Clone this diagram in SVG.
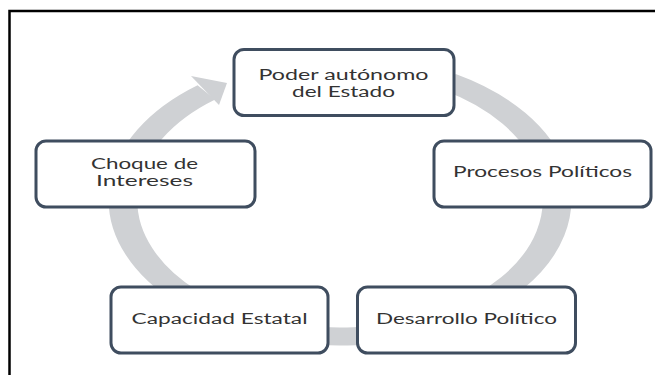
<svg xmlns="http://www.w3.org/2000/svg" width="655" height="375" viewBox="0 0 655 375">
<style>
.box{fill:#fff;stroke:#3f4d5f;stroke-width:3}
.t{font-family:Lato,"Open Sans","Liberation Sans",sans-serif;font-size:14.5px;fill:#333;text-anchor:middle}
.ring{fill:none;stroke:#cfd1d4;stroke-width:18}
</style>
<rect width="655" height="375" fill="#fff"/>
<path d="M9.5 375 V11 H655" fill="none" stroke="#000" stroke-width="2.5"/>
<g id="connectors">
<path class="ring" transform="translate(340,200) scale(1.59,1)" d="M68.25 -118.2 A136.5 136.5 0 1 1 -84.04 -107.56"/>
<polygon points="191,76 227,83 219,105" fill="#cfd1d4"/>
</g>
<g id="n1"><rect class="box" x="234" y="49.5" width="220" height="66" rx="10"/>
<text class="t"><tspan x="343.5" y="79.5" textLength="170" lengthAdjust="spacingAndGlyphs">Poder autónomo</tspan><tspan x="343.5" y="97" textLength="103" lengthAdjust="spacingAndGlyphs">del Estado</tspan></text></g>
<g id="n2"><rect class="box" x="434" y="141" width="217" height="66" rx="10"/>
<text class="t" x="542.5" y="177" textLength="179" lengthAdjust="spacingAndGlyphs">Procesos Políticos</text></g>
<g id="n3"><rect class="box" x="357.5" y="287" width="218" height="66" rx="10"/>
<text class="t" x="466.5" y="324" textLength="181" lengthAdjust="spacingAndGlyphs">Desarrollo Político</text></g>
<g id="n4"><rect class="box" x="111" y="287" width="217" height="66" rx="10"/>
<text class="t" x="219.5" y="324" textLength="176" lengthAdjust="spacingAndGlyphs">Capacidad Estatal</text></g>
<g id="n5"><rect class="box" x="36" y="141" width="219" height="66" rx="10"/>
<text class="t"><tspan x="144.5" y="168.5" textLength="107" lengthAdjust="spacingAndGlyphs">Choque de</tspan><tspan x="144.5" y="186" textLength="97" lengthAdjust="spacingAndGlyphs">Intereses</tspan></text></g>
</svg>
